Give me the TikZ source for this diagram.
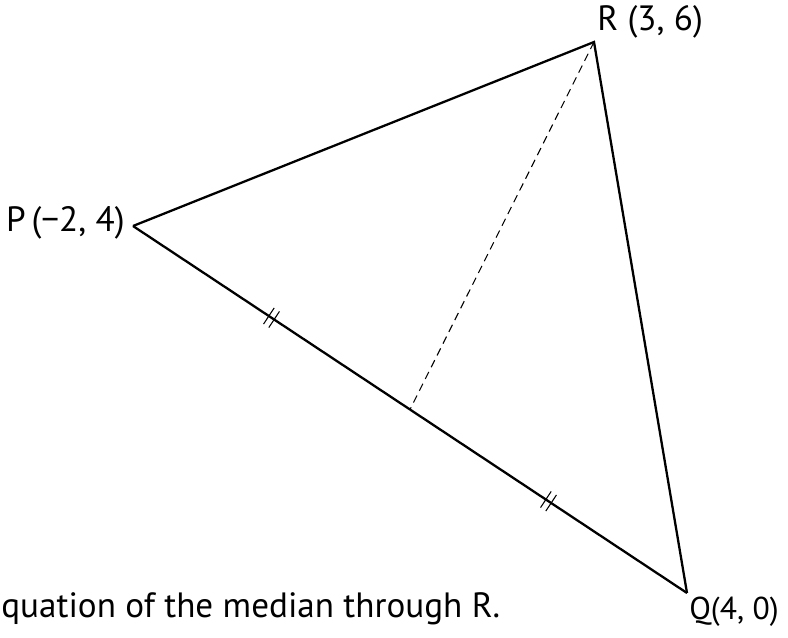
\documentclass[tikz,border=0pt]{standalone}
\usepackage{fontspec}
\setmainfont{PT Sans}
\usetikzlibrary{calc,decorations.markings}
\begin{document}
\begin{tikzpicture}[x=0.02cm,y=-0.02cm]
	\tikzset{
		side/.style={line width=1.3pt, line join=miter},
		median/.style={line width=0.6pt, dash pattern=on 4.5pt off 3pt},
		lbl/.style={font=\fontsize{20}{22}\selectfont, inner sep=0pt},
		equal/.style={postaction={decorate}, decoration={markings,
			mark=at position 0.5 with {\draw[line width=0.6pt] (-1.8pt,-5.5pt)--(-1.8pt,5.5pt) (1.8pt,-5.5pt)--(1.8pt,5.5pt);}}}
	}
	\useasboundingbox (0,0) rectangle (788,637);

	\coordinate (P) at (133,226);
	\coordinate (Q) at (687,593);
	\coordinate (R) at (594,42);
	\coordinate (M) at ($(P)!0.5!(Q)$);

	\draw[side] (P)--(R)--(Q);
	\draw[side,equal] (P)--(M);
	\draw[side,equal] (M)--(Q);
	\draw[median] (R)--(M);

	\node[lbl,anchor=west] (lR) at (597,22) {R (3, 6)};
	\node[lbl,anchor=east] (lP) at (125,223) {P\,(−2, 4)};
	\node[lbl,anchor=west,font=\fontsize{18}{20}\selectfont] (lQ) at (689,612) {Q(4, 0)};
	\node[lbl,anchor=west] (task) at (1,609) {quation of the median through R.};

\end{tikzpicture}
\end{document}
